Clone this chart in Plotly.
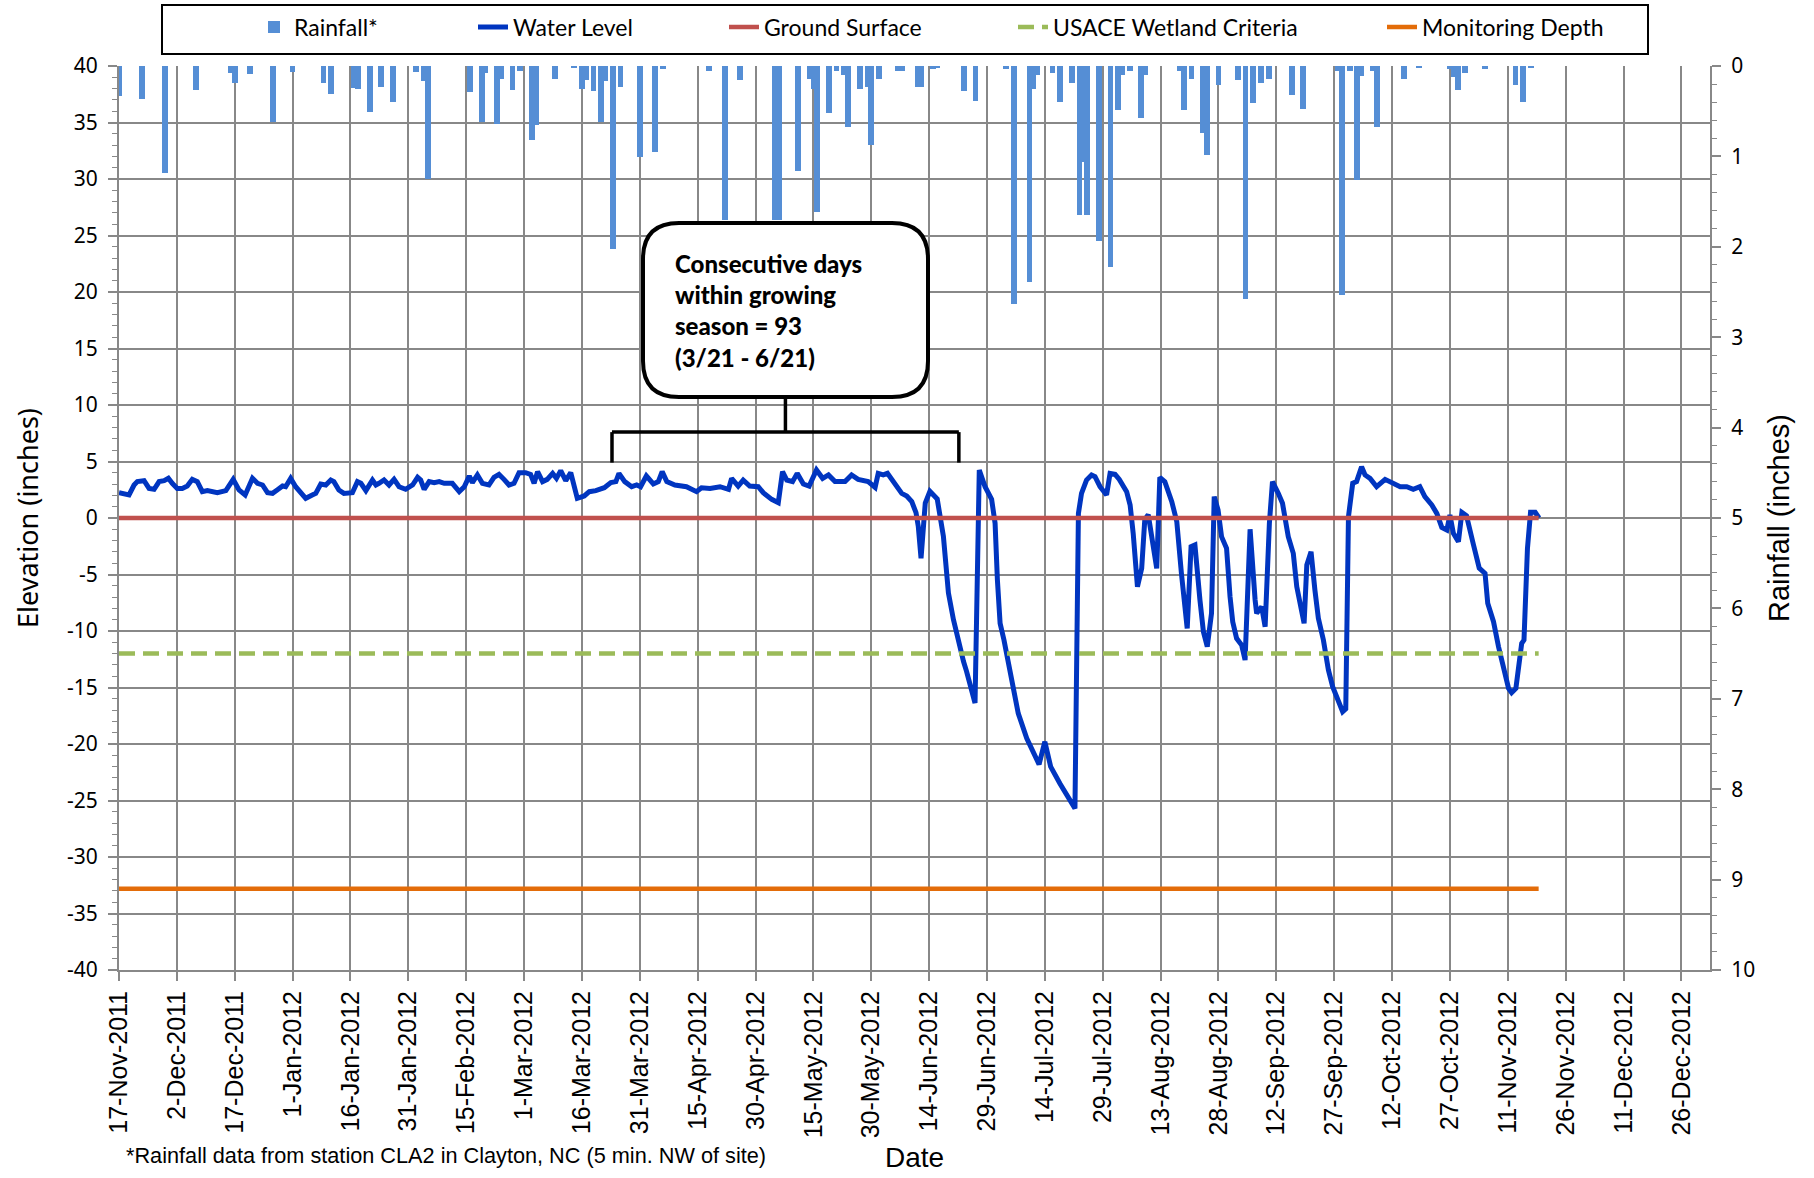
import pandas as pd
import plotly.graph_objects as go

START = "2011-11-17"

# Daily rainfall (inches), days since 17-Nov-2011
rain_day = [0, 6, 12, 20, 29, 30, 34, 40, 45, 53, 55, 61, 62, 65, 68, 71, 77, 79, 80, 91,
            94, 95, 98, 99, 102, 104, 107, 108, 113, 118, 120, 121, 123, 125, 126, 128, 130,
            135, 139, 141, 153, 157, 161, 170, 171, 176, 179, 180, 181, 184, 186, 188, 189,
            192, 194, 195, 197, 202, 203, 207, 208, 211, 212, 219, 222, 230, 232, 236, 237,
            238, 242, 244, 247, 249, 250, 251, 254, 257, 259, 260, 262, 265, 266, 275, 276,
            278, 281, 282, 285, 290, 292, 294, 296, 298, 304, 307, 316, 317, 319, 321, 322,
            325, 326, 333, 337, 345, 346, 347, 349, 354, 362, 364, 366]
rain_in = [0.33, 0.36, 1.18, 0.27, 0.08, 0.19, 0.09, 0.62, 0.07, 0.19, 0.31, 0.24, 0.25, 0.51,
           0.23, 0.40, 0.07, 0.17, 1.25, 0.29, 0.62, 0.08, 0.64, 0.14, 0.27, 0.05, 0.82, 0.65,
           0.14, 0.02, 0.25, 0.16, 0.28, 0.62, 0.17, 2.02, 0.23, 1.01, 0.95, 0.03, 0.06, 1.70,
           0.16, 1.70, 1.70, 1.16, 0.14, 0.25, 1.61, 0.52, 0.05, 0.10, 0.67, 0.25, 0.23, 0.87,
           0.14, 0.06, 0.05, 0.23, 0.23, 0.03, 0.02, 0.28, 0.39, 0.03, 2.63, 2.39, 0.25, 0.10,
           0.08, 0.40, 0.19, 1.65, 1.06, 1.65, 1.94, 2.22, 0.49, 0.10, 0.06, 0.58, 0.10, 0.06,
           0.49, 0.14, 0.74, 0.98, 0.21, 0.16, 2.58, 0.41, 0.19, 0.14, 0.32, 0.48, 0.05, 2.53,
           0.06, 1.26, 0.11, 0.05, 0.67, 0.14, 0.02, 0.03, 0.12, 0.27, 0.08, 0.03, 0.21, 0.40,
           0.02]

# Water level (inches), days since 17-Nov-2011
wl_day = [0, 2.6, 3.9, 4.75, 6.5, 7.8, 9.1, 10.4, 11.7, 12.8, 13.8, 15.1, 16.4, 17.7, 19.0,
          20.3, 21.6, 22.9, 25.5, 27.7, 29.6, 31.1, 32.7, 34.6, 35.9, 37.2, 38.5, 39.8, 41.0,
          42.4, 43.2, 44.5, 45.8, 47.1, 48.4, 50.1, 51.0, 52.3, 53.6, 54.9, 55.7, 57.0, 58.3,
          60.5, 61.8, 62.7, 64.0, 65.7, 66.6, 67.4, 68.7, 70.0, 71.3, 72.6, 74.3, 76.1, 77.4,
          78.2, 79.1, 80.4, 81.7, 83.0, 84.3, 86.4, 88.2, 89.5, 90.8, 91.6, 92.9, 94.2, 95.9,
          97.2, 98.5, 99.8, 101.1, 102.4, 103.7, 105.4, 106.7, 107.6, 108.5, 109.8, 111.0,
          112.4, 113.4, 114.5, 115.8, 117.1, 118.8, 120.6, 121.9, 123.6, 125.8, 127.5, 128.8,
          129.6, 131.1, 132.9, 134.2, 135.2, 136.7, 138.5, 139.8, 140.8, 142.0, 144.1, 147.1,
          149.7, 151.0, 153.2, 155.8, 158.0, 158.8, 160.5, 161.8, 163.5, 165.7, 167.0, 169.2,
          170.9, 172.0, 173.1, 174.6, 175.8, 177.4, 178.9, 180.8, 182.4, 183.9, 185.6, 188.2,
          189.9, 191.6, 194.2, 196.0, 196.8, 198.1, 199.2, 200.7, 202.9, 204.2, 205.5, 206.6,
          207.2, 207.9, 208.5, 209.0, 210.2, 212.1, 213.7, 215.0, 216.3, 217.6, 218.9, 219.7,
          220.8, 221.9, 223.0, 224.5, 226.2, 227.1, 227.7, 228.4, 229.4, 231.4, 233.1, 235.3,
          238.5, 240.0, 241.5, 243.9, 245.6, 247.8, 248.7, 249.5, 250.8, 252.1, 253.0, 254.3,
          256.0, 256.9, 258.2, 259.3, 261.2, 262.1, 262.9, 264.0, 265.1, 265.9, 266.8, 269.0,
          269.8, 271.1, 272.9, 274.2, 275.4, 276.9, 277.9, 278.9, 280.2, 281.1, 282.1, 283.2,
          283.9, 284.9, 285.8, 287.1, 288.0, 288.7, 289.7, 291.0, 291.9, 293.2, 294.5, 294.9,
          296.2, 297.1, 298.2, 299.0, 300.5, 301.6, 303.1, 304.4, 305.3, 306.1, 307.2, 307.9,
          309.0, 310.0, 310.9, 312.2, 313.5, 314.6, 316.1, 317.2, 318.0, 318.7, 319.8, 320.8,
          322.1, 323.0, 324.3, 326.0, 328.2, 329.9, 332.1, 333.8, 335.5, 337.2, 338.5, 340.3,
          341.6, 342.9, 344.2, 345.0, 345.9, 347.2, 348.1, 349.3, 350.2, 351.1, 352.6, 354.1,
          354.8, 356.3, 357.6, 358.9, 360.2, 361.0, 362.1, 363.6, 364.2, 365.1, 365.9, 367.1,
          368.1]
wl_val = [2.24, 2.04, 2.92, 3.22, 3.30, 2.62, 2.54, 3.22, 3.30, 3.51, 3.07, 2.62, 2.62, 2.83,
          3.42, 3.22, 2.33, 2.42, 2.24, 2.42, 3.42, 2.48, 2.04, 3.51, 3.07, 2.92, 2.24, 2.18,
          2.48, 2.83, 2.77, 3.51, 2.77, 2.18, 1.74, 2.04, 2.18, 3.01, 2.92, 3.36, 3.22, 2.48,
          2.18, 2.24, 3.22, 3.07, 2.42, 3.36, 2.92, 3.07, 3.36, 2.92, 3.42, 2.77, 2.54, 2.92,
          3.60, 3.36, 2.54, 3.22, 3.13, 3.22, 3.07, 3.07, 2.33, 2.77, 3.72, 3.13, 3.81, 3.07,
          2.92, 3.60, 3.86, 3.42, 2.92, 3.07, 4.01, 4.01, 3.86, 3.07, 4.10, 3.22, 3.42, 3.95,
          3.51, 4.19, 3.30, 4.01, 1.74, 1.95, 2.33, 2.42, 2.68, 3.13, 3.22, 3.95, 3.22, 2.77,
          2.92, 2.77, 3.72, 3.01, 3.22, 4.10, 3.22, 2.92, 2.77, 2.33, 2.68, 2.62, 2.77, 2.54,
          3.51, 2.83, 3.36, 2.83, 2.77, 2.24, 1.65, 1.36, 4.10, 3.36, 3.22, 3.95, 3.01, 2.83,
          4.25, 3.51, 3.81, 3.22, 3.22, 3.81, 3.42, 3.22, 2.71, 3.95, 3.81, 3.95, 3.30, 2.18,
          1.95, 1.45, 0.47, -0.77, -3.57, -0.45, 1.33, 2.36, 1.68, -1.62, -6.64, -8.99, -11.06,
          -12.68, -13.57, -15.19, -16.37, 4.25, 2.77, 1.65, -0.47, -5.49, -9.32, -10.80, -14.63,
          -17.29, -19.50, -21.80, -19.80, -22.00, -23.50, -24.40, -25.70, 0.41, 2.18, 3.36,
          3.81, 3.66, 2.77, 2.04, 3.95, 3.86, 3.42, 2.33, 1.15, -1.36, -6.08, -4.46, -0.15,
          0.30, -4.46, 3.60, 3.22, 1.45, -0.32, -4.90, -9.77, -2.54, -2.39, -7.26, -10.06,
          -11.39, -8.44, 1.89, 0.71, -1.65, -2.68, -6.96, -9.18, -10.65, -11.24, -12.57, -1.00,
          -7.26, -8.44, -7.85, -9.62, -0.47, 3.22, 2.18, 1.30, -1.65, -3.13, -6.08, -7.70,
          -9.32, -4.16, -2.98, -6.37, -8.88, -10.80, -13.45, -14.93, -16.10, -17.14, -16.90,
          0.12, 3.07, 3.22, 4.54, 3.81, 3.51, 2.77, 3.42, 3.13, 2.77, 2.77, 2.54, 2.77, 1.89,
          1.15, 0.41, -0.83, -1.06, 0.27, -1.36, -2.10, 0.50, 0.21, -0.89, -2.37, -4.43, -4.90,
          -7.55, -9.18, -11.39, -13.45, -15.08, -15.46, -15.08, -11.10, -10.80, -2.68, 0.50,
          0.50, 0.00]

ref_dates = ["2011-11-17", "2012-11-19"]
ground_surface = [0, 0]
usace_criteria = [-12, -12]
monitoring_depth = [-32.8, -32.8]

elev_ticks = list(range(-40, 41, 5))
rain_ticks = list(range(0, 11))

x_range = ["2011-11-17", "2013-01-02 10:00"]
bracket_dates = ["2012-03-23 19:00", "2012-06-21 17:00"]
bracket_mid = "2012-05-07 18:00"

start = pd.Timestamp(START)
rain_dates = start + pd.to_timedelta(rain_day, unit="D")
wl_dates = start + pd.to_timedelta(wl_day, unit="D")

# ---- figure geometry (pixels) ----
W, H = 1814, 1178
L, R, T, B = 119, 1710, 66, 970
PW, PH = R - L, B - T


def px(xp):
    return (xp - L) / PW


def py(yp):
    return (B - yp) / PH


GRID = "#888888"
DAY_MS = 86400000
SANS = "Liberation Sans"

fig = go.Figure()
fig.add_trace(go.Bar(x=rain_dates, y=rain_in, yaxis="y2", name="Rainfall*",
                     marker=dict(color="#558ED5", line=dict(width=0)),
                     width=1.5 * DAY_MS, legendwidth=174))
fig.add_trace(go.Scatter(x=wl_dates, y=wl_val, mode="lines", name="Water Level",
                         line=dict(color="#0035C0", width=5), legendwidth=206))
fig.add_trace(go.Scatter(x=ref_dates, y=ground_surface, mode="lines", name="Ground Surface",
                         line=dict(color="#C0504D", width=4.5), legendwidth=244))
fig.add_trace(go.Scatter(x=ref_dates, y=usace_criteria, mode="lines",
                         name="USACE Wetland Criteria",
                         line=dict(color="#9BBB59", width=4.5, dash="16px,8px"),
                         legendwidth=324))
fig.add_trace(go.Scatter(x=ref_dates, y=monitoring_depth, mode="lines",
                         name="Monitoring Depth",
                         line=dict(color="#E36C09", width=4.5), legendwidth=185))

tickfont_y = dict(family="Noto Sans", size=21, color="black")

fig.update_layout(
    template="none",
    width=W, height=H,
    margin=dict(l=L, r=W - R, t=T, b=H - B, pad=0, autoexpand=False),
    paper_bgcolor="white", plot_bgcolor="white",
    showlegend=True,
    bargap=0,
    legend=dict(orientation="h", x=px(254), y=py(5.5), xanchor="left", yanchor="top",
                font=dict(family="Lato", size=23, color="black"),
                bgcolor="rgba(0,0,0,0)", borderwidth=0, traceorder="normal"),
    xaxis=dict(type="date", range=x_range, tick0=START, dtick=15 * DAY_MS,
               tickformat="%-d-%b-%Y", tickangle=-90,
               tickfont=dict(family=SANS, size=25, color="black"),
               showgrid=True, gridcolor=GRID, gridwidth=1.5,
               showline=True, linecolor=GRID, linewidth=2,
               ticks="outside", ticklen=9, tickcolor=GRID, tickwidth=1.5,
               automargin=False, zeroline=False,
               title=dict(text="Date", standoff=10,
                          font=dict(family=SANS, size=28, color="black"))),
    yaxis=dict(range=[-40, 40], tickmode="array", tickvals=elev_ticks,
               ticktext=[str(v) for v in elev_ticks],
               tickfont=tickfont_y,
               showgrid=True, gridcolor=GRID, gridwidth=1.5,
               showline=True, linecolor=GRID, linewidth=2,
               ticks="outside", ticklen=9, tickcolor=GRID, tickwidth=1.5,
               minor=dict(dtick=1, tick0=0, ticks="outside", ticklen=5, tickcolor=GRID,
                          tickwidth=1.2, showgrid=False),
               zeroline=False, automargin=False, ticklabelstandoff=6,
               title=dict(text="Elevation (inches)", standoff=21,
                          font=dict(family="Noto Sans", size=27, color="black"))),
    yaxis2=dict(overlaying="y", side="right", range=[10, 0], tickmode="array",
                tickvals=rain_ticks, ticktext=[str(v) for v in rain_ticks],
                tickfont=tickfont_y, showgrid=False,
                showline=True, linecolor=GRID, linewidth=2,
                ticks="outside", ticklen=9, tickcolor=GRID, tickwidth=1.5,
                minor=dict(dtick=0.2, tick0=0, ticks="outside", ticklen=5, tickcolor=GRID,
                           tickwidth=1.2, showgrid=False),
                zeroline=False, automargin=False, ticklabelstandoff=6,
                title=dict(text="Rainfall (inches)", standoff=14,
                           font=dict(family=SANS, size=29, color="black"))),
)

# legend frame
fig.add_shape(type="rect", xref="paper", yref="paper",
              x0=px(162), x1=px(1648), y0=py(54), y1=py(5),
              line=dict(color="black", width=2), fillcolor="rgba(0,0,0,0)", layer="above")

# callout box (rounded rectangle)
bx0, bx1, by0, by1 = px(643), px(928), py(397), py(223)
rx, ry = 36 / PW, 36 / PH
path = (f"M {bx0 + rx},{by1} L {bx1 - rx},{by1} Q {bx1},{by1} {bx1},{by1 - ry} "
        f"L {bx1},{by0 + ry} Q {bx1},{by0} {bx1 - rx},{by0} "
        f"L {bx0 + rx},{by0} Q {bx0},{by0} {bx0},{by0 + ry} "
        f"L {bx0},{by1 - ry} Q {bx0},{by1} {bx0 + rx},{by1} Z")
fig.add_shape(type="path", xref="paper", yref="paper", path=path,
              line=dict(color="black", width=4), fillcolor="white", layer="above")

# bracket
BR_TOP, BR_END = 7.6, 4.9
fig.add_shape(type="line", xref="x", yref="y", x0=bracket_dates[0], x1=bracket_dates[1],
              y0=BR_TOP, y1=BR_TOP, line=dict(color="black", width=3.5), layer="above")
for d in bracket_dates:
    fig.add_shape(type="line", xref="x", yref="y", x0=d, x1=d, y0=BR_TOP, y1=BR_END,
                  line=dict(color="black", width=3.5), layer="above")
fig.add_shape(type="line", xref="x", yref="paper", x0=bracket_mid, x1=bracket_mid,
              y0=py(432), y1=by0, line=dict(color="black", width=3.5), layer="above")

fig.add_annotation(xref="paper", yref="paper", x=px(673), y=py(310),
                   xanchor="left", yanchor="middle", align="left", showarrow=False,
                   text=("Consecutive days<br>within growing<br>season = 93<br>"
                         "(3/21 - 6/21)"),
                   font=dict(family="Lato", size=24, color="black", weight=900))

fig.add_annotation(xref="paper", yref="paper", x=px(124), y=py(1155),
                   xanchor="left", yanchor="middle", showarrow=False,
                   text="*Rainfall data from station CLA2 in Clayton, NC (5 min. NW of site)",
                   font=dict(family=SANS, size=21.7, color="black"))

fig.write_html("out.html")
